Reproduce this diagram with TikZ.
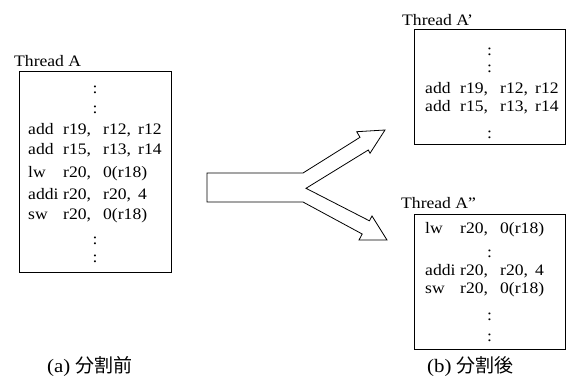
\documentclass[tikz,border=0pt]{standalone}
\usepackage{fontspec}
\setmainfont{Liberation Serif}[FakeStretch=1.1]
\newfontfamily\jpfont{Noto Sans CJK JP}
\usetikzlibrary{positioning}

\newcommand{\ins}[4]{\makebox[35pt][l]{#1}\makebox[40pt][l]{#2}\makebox[35pt][l]{#3}#4}

\begin{document}
\begin{tikzpicture}[x=1pt, y=-1pt,
  codebox/.style={draw, line width=0.8pt, inner sep=0pt, anchor=north west},
  code/.style={anchor=base west, inner sep=0pt, font=\fontsize{16}{18}\selectfont},
  vdots/.style={anchor=base, inner sep=0pt, font=\fontsize{16}{18}\selectfont},
  title/.style={anchor=base west, inner sep=0pt, font=\fontsize{16}{18}\selectfont},
  capt/.style={anchor=base west, inner sep=0pt, font=\fontsize{19}{22}\selectfont},
  fork/.style={draw, line width=0.8pt, line join=miter}]
  \useasboundingbox (0,0) rectangle (566,378);

  % thread A
  \node[codebox, minimum width=152pt, minimum height=201pt] (boxA) at (19,71) {};
  \node[title] (tA) at (14,66.7) {Thread A};
  \node[vdots] (a1) at (95,93.8) {:};
  \node[vdots] (a2) at (95,113.8) {:};
  \node[code] (a3) at (28,134.3) {\ins{add}{r19,}{r12,}{r12}};
  \node[code] (a4) at (28,154.3) {\ins{add}{r15,}{r13,}{r14}};
  \node[code] (a5) at (28,177) {\ins{lw}{r20,}{0(r18)}{}};
  \node[code] (a6) at (28,199) {\ins{addi}{r20,}{r20,}{4}};
  \node[code] (a7) at (28,219) {\ins{sw}{r20,}{0(r18)}{}};
  \node[vdots] (a8) at (95,244) {:};
  \node[vdots] (a9) at (95,262) {:};
  \node[capt] (capA) at (47,372) {(a) {\jpfont 分割前}};

  % fork
  \draw[fork] (207,173) -- (303,173) -- (360,137.3) -- (356.7,131.7) -- (385,130)
    -- (370,153.3) -- (368.3,150) -- (306,188.3) -- (369.4,220.8) -- (372,216)
    -- (387,240) -- (359,240) -- (362.2,234) -- (303,202) -- (207,202) -- cycle;

  % thread A'
  \node[codebox, minimum width=151pt, minimum height=115pt] (boxB) at (414,29) {};
  \node[title] (tB) at (402,25) {Thread A’};
  \node[vdots] (b1) at (489.5,55.8) {:};
  \node[vdots] (b2) at (489.5,72) {:};
  \node[code] (b3) at (425,93.3) {\ins{add}{r19,}{r12,}{r12}};
  \node[code] (b4) at (425,111.7) {\ins{add}{r15,}{r13,}{r14}};
  \node[vdots] (b5) at (489.5,138.8) {:};

  % thread A''
  \node[codebox, minimum width=151pt, minimum height=135pt] (boxC) at (414,214) {};
  \node[title] (tC) at (401,208.3) {Thread A”};
  \node[code] (c1) at (425,233.3) {\ins{lw}{r20,}{0(r18)}{}};
  \node[vdots] (c2) at (489.5,257) {:};
  \node[code] (c3) at (425,275) {\ins{addi}{r20,}{r20,}{4}};
  \node[code] (c4) at (425,293.3) {\ins{sw}{r20,}{0(r18)}{}};
  \node[vdots] (c5) at (489.5,320.5) {:};
  \node[vdots] (c6) at (489.5,341) {:};
  \node[capt] (capB) at (427,372) {(b) {\jpfont 分割後}};
\end{tikzpicture}
\end{document}
